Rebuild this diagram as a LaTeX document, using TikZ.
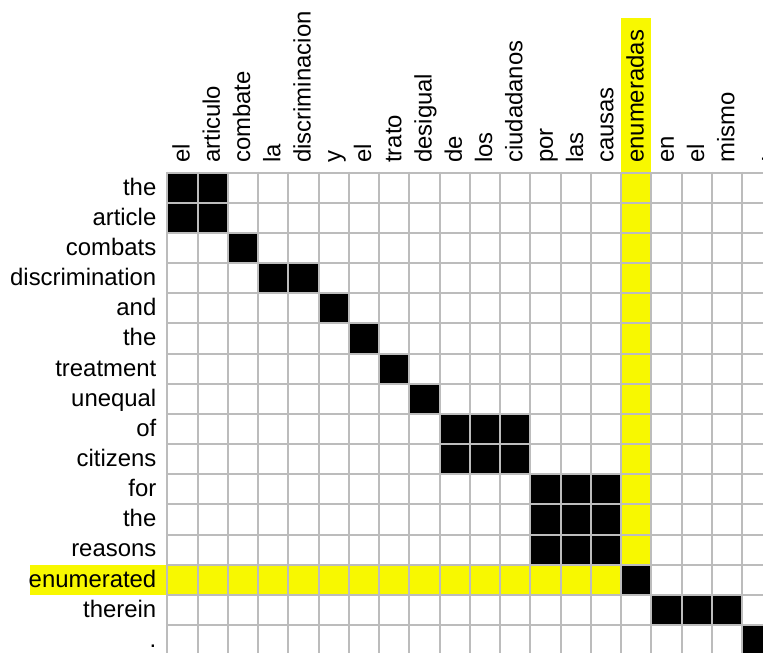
\documentclass[tikz,border=0pt]{standalone}
\usepackage{fontspec}
\setmainfont{Liberation Sans}
\definecolor{hl}{RGB}{248,248,0}
\definecolor{gridc}{RGB}{188,188,188}
\begin{document}
\begin{tikzpicture}[x=1pt,y=-1pt,
  lab/.style={inner sep=0pt,font=\fontsize{23.9}{28}\selectfont},
  gridline/.style={gridc,line width=2pt},
  align/.style={fill=black}]
\useasboundingbox (0,0) rectangle (763,653);
\def\cw{30.26}\def\ch{30.15}\def\xo{167.3}\def\yo{172.7}
% highlights
\fill[hl] (\xo+15*\cw,18) rectangle (\xo+16*\cw,\yo+13*\ch);
\fill[hl] (30,\yo+13*\ch) rectangle (\xo+15*\cw,\yo+14*\ch);
% alignment cells
\foreach \r/\c in {0/0,0/1,1/0,1/1,2/2,3/3,3/4,4/5,5/6,6/7,7/8,
  8/9,8/10,8/11,9/9,9/10,9/11,10/12,10/13,10/14,11/12,11/13,11/14,
  12/12,12/13,12/14,13/15,14/16,14/17,14/18,15/19}
  \fill[align] (\xo+\c*\cw,\yo+\r*\ch) rectangle ++(\cw,\ch);
% grid
\foreach \i in {0,...,20}
  \draw[gridline] (\xo+\i*\cw,\yo-1) -- (\xo+\i*\cw,660);
\foreach \j in {0,...,16}
  \draw[gridline] (\xo-1,\yo+\j*\ch) -- (770,\yo+\j*\ch);
% row labels
\foreach \t [count=\k from 0] in {the,article,combats,discrimination,and,the,treatment,unequal,of,citizens,for,the,reasons,enumerated,therein,.}
  \node[lab,anchor=base east] (r\k) at (156.5,\yo+\k*\ch+\ch/2+7.4) {\t};
% column labels
\foreach \t [count=\k from 0] in {el,articulo,combate,la,discriminacion,y,el,trato,desigual,de,los,ciudadanos,por,las,causas,enumeradas,en,el,mismo,.}
  \node[lab,rotate=90,anchor=base west] (c\k) at (\xo+\k*\cw+\cw/2+7.2,163) {\t};
\end{tikzpicture}
\end{document}
